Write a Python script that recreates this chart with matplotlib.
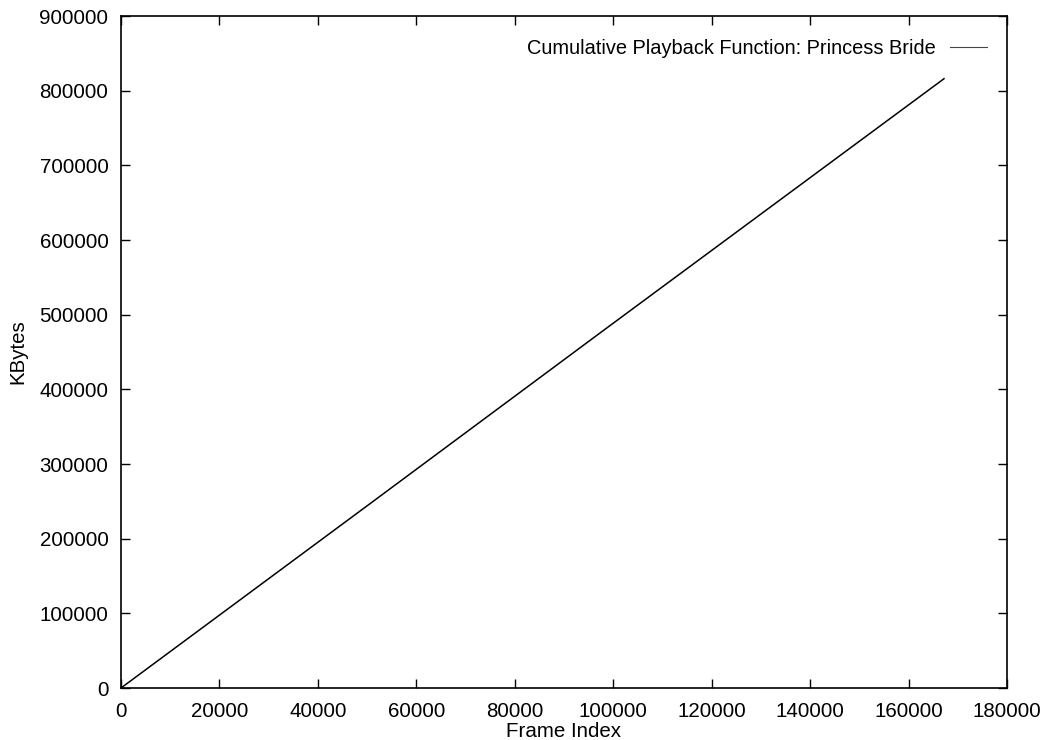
import matplotlib
matplotlib.use("Agg")
import matplotlib.pyplot as plt

frame_index = [0, 51600, 97300, 167200]
kbytes = [0, 251800, 475400, 816000]
series_label = "Cumulative Playback Function: Princess Bride"
x_ticks = list(range(0, 180001, 20000))
y_ticks = list(range(0, 900001, 100000))

plt.rcParams['font.family'] = ['Liberation Sans', 'DejaVu Sans']
fig = plt.figure(figsize=(10.45, 7.4), dpi=100)
ax = fig.add_axes([121/1045, 1-688/740, (1007-121)/1045, (688-16)/740])

ax.plot(frame_index, kbytes, color='black', lw=1.1, label=series_label)
ax.set_xlim(0, 180000)
ax.set_ylim(0, 900000)
ax.set_xticks(x_ticks)
ax.set_yticks(y_ticks)
ax.set_xticklabels([str(v) for v in x_ticks])
ax.set_yticklabels([str(v) for v in y_ticks])
ax.tick_params(direction='in', length=6.5, width=1, top=True, right=True,
               labelsize=14.8, colors='black')
ax.tick_params(axis='x', pad=10)
ax.tick_params(axis='y', pad=9)
for s in ax.spines.values():
    s.set_linewidth(1.2)
ax.set_xlabel("Frame Index", fontsize=14.8, labelpad=1)
ax.set_ylabel("KBytes", fontsize=14.8, labelpad=9)

leg = ax.legend(loc='upper right', frameon=False, fontsize=14.4, markerfirst=False,
                handlelength=1.85, handletextpad=0.7, borderaxespad=0, borderpad=0,
                bbox_to_anchor=(0.9774, 0.966))
for h in leg.get_lines():
    h.set_linewidth(0.8)
    h.set_color('#444444')

fig.savefig("out.png", dpi=100)
